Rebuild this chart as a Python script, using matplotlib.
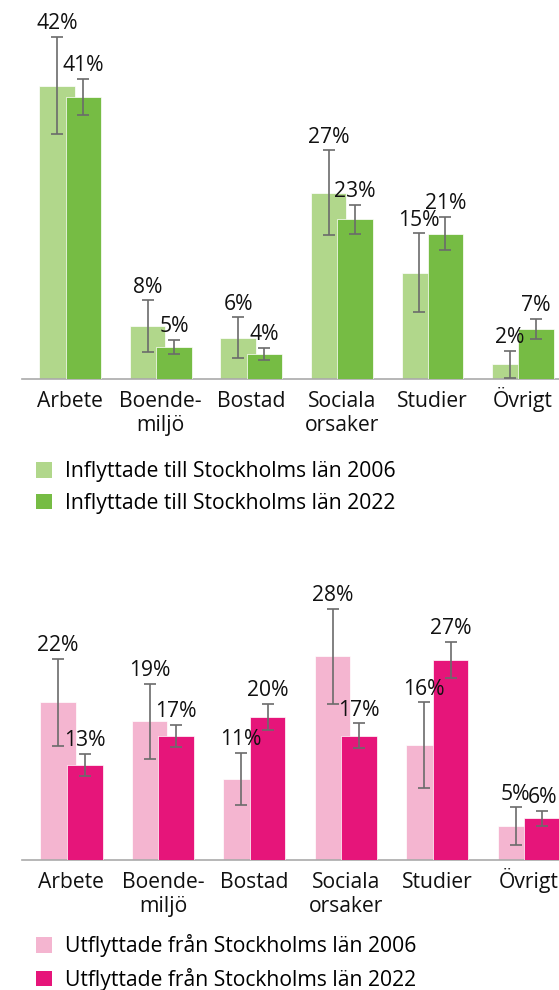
import numpy as np
import matplotlib
matplotlib.use("Agg")
from matplotlib import pyplot as plt
from matplotlib.patches import Patch

plt.rcParams['font.family'] = ['Open Sans', 'DejaVu Sans']

categories = ['Arbete', 'Boende-\nmiljö', 'Bostad', 'Sociala\norsaker', 'Studier', 'Övrigt']

# Inflyttade (top chart)
in_2006 = [42.2, 7.6, 5.9, 26.8, 15.3, 2.1]
in_2022 = [40.6, 4.6, 3.6, 23.0, 20.9, 7.2]
in_err_2006 = [7.0, 3.7, 2.95, 6.1, 5.65, 1.9]
in_err_2022 = [2.6, 1.05, 0.9, 2.1, 2.4, 1.4]

# Utflyttade (bottom chart)
ut_2006 = [21.6, 19.0, 11.1, 27.9, 15.7, 4.6]
ut_2022 = [13.0, 17.0, 19.6, 17.0, 27.4, 5.7]
ut_err_2006 = [6.0, 5.1, 3.55, 6.5, 5.9, 2.6]
ut_err_2022 = [1.55, 1.55, 1.75, 1.7, 2.5, 1.05]

in_labels = ['Inflyttade till Stockholms län 2006', 'Inflyttade till Stockholms län 2022']
ut_labels = ['Utflyttade från Stockholms län 2006', 'Utflyttade från Stockholms län 2022']

green_light = '#b1d78b'
green_dark = '#76bc44'
pink_light = '#f4b5d0'
pink_dark = '#e6157a'

W, H = 559, 990
fig = plt.figure(figsize=(W / 100, H / 100), dpi=100)
FS = 15.2


def draw(ax, v1, v2, e1, e2, c1, c2, xlim, ylim):
    x = np.arange(len(categories))
    off = 0.145
    wd = 0.39
    ax.bar(x - off, v1, wd, color=c1, edgecolor='white', linewidth=0.5, zorder=2)
    ax.bar(x + off, v2, wd, color=c2, edgecolor='white', linewidth=0.5, zorder=3)
    ax.errorbar(x - off, v1, yerr=e1, fmt='none', ecolor='#6b6b6b', elinewidth=1.2,
                capsize=4, capthick=1.2, zorder=4)
    ax.errorbar(x + off, v2, yerr=e2, fmt='none', ecolor='#6b6b6b', elinewidth=1.2,
                capsize=4, capthick=1.2, zorder=4)
    for xs, vs, es in [(x - off, v1, e1), (x + off, v2, e2)]:
        for xi, vi, ei in zip(xs, vs, es):
            ax.annotate('%d%%' % round(vi), (xi, vi + ei), xytext=(0, 2),
                        textcoords='offset points', ha='center', va='bottom',
                        fontsize=FS, color='#111111', zorder=5)
    # category labels, one line at a time so first baselines line up
    for xi, cat in zip(x, categories):
        for k, line in enumerate(cat.split('\n')):
            ax.annotate(line, (xi, 0), xycoords=('data', 'axes fraction'),
                        xytext=(0, -20 - 17.5 * k), textcoords='offset points',
                        ha='center', va='baseline', fontsize=FS, color='#111111')
    ax.set_xlim(*xlim)
    ax.set_ylim(*ylim)
    ax.set_xticks([])
    ax.set_yticks([])
    for s in ['top', 'right', 'left']:
        ax.spines[s].set_visible(False)
    ax.spines['bottom'].set_color('#aaaaaa')
    ax.spines['bottom'].set_linewidth(1.2)
    ax.patch.set_visible(False)


# top chart: baseline at y=379px, 6.95 px per %
ax1 = fig.add_axes([22 / W, 1 - 379 / H, 537 / W, 369 / H])
draw(ax1, in_2006, in_2022, in_err_2006, in_err_2022, green_light, green_dark,
     (-0.533, 5.4), (0, 369 / 6.95))

# bottom chart: baseline at y=860px, 7.3 px per %
ax2 = fig.add_axes([22 / W, 1 - 860 / H, 537 / W, 265 / H])
draw(ax2, ut_2006, ut_2022, ut_err_2006, ut_err_2022, pink_light, pink_dark,
     (-0.54, 5.33), (0, 265 / 7.3))

for labels, cols, ytop in [(in_labels, (green_light, green_dark), 457),
                           (ut_labels, (pink_light, pink_dark), 930)]:
    handles = [Patch(facecolor=cols[0]), Patch(facecolor=cols[1])]
    fig.legend(handles, labels, loc='upper left', bbox_to_anchor=(32 / W, 1 - ytop / H),
               frameon=False, fontsize=FS, handlelength=0.75, handleheight=0.75,
               handletextpad=0.6, labelspacing=0.5, borderpad=0.2, borderaxespad=0)

fig.savefig('out.png', dpi=100)
